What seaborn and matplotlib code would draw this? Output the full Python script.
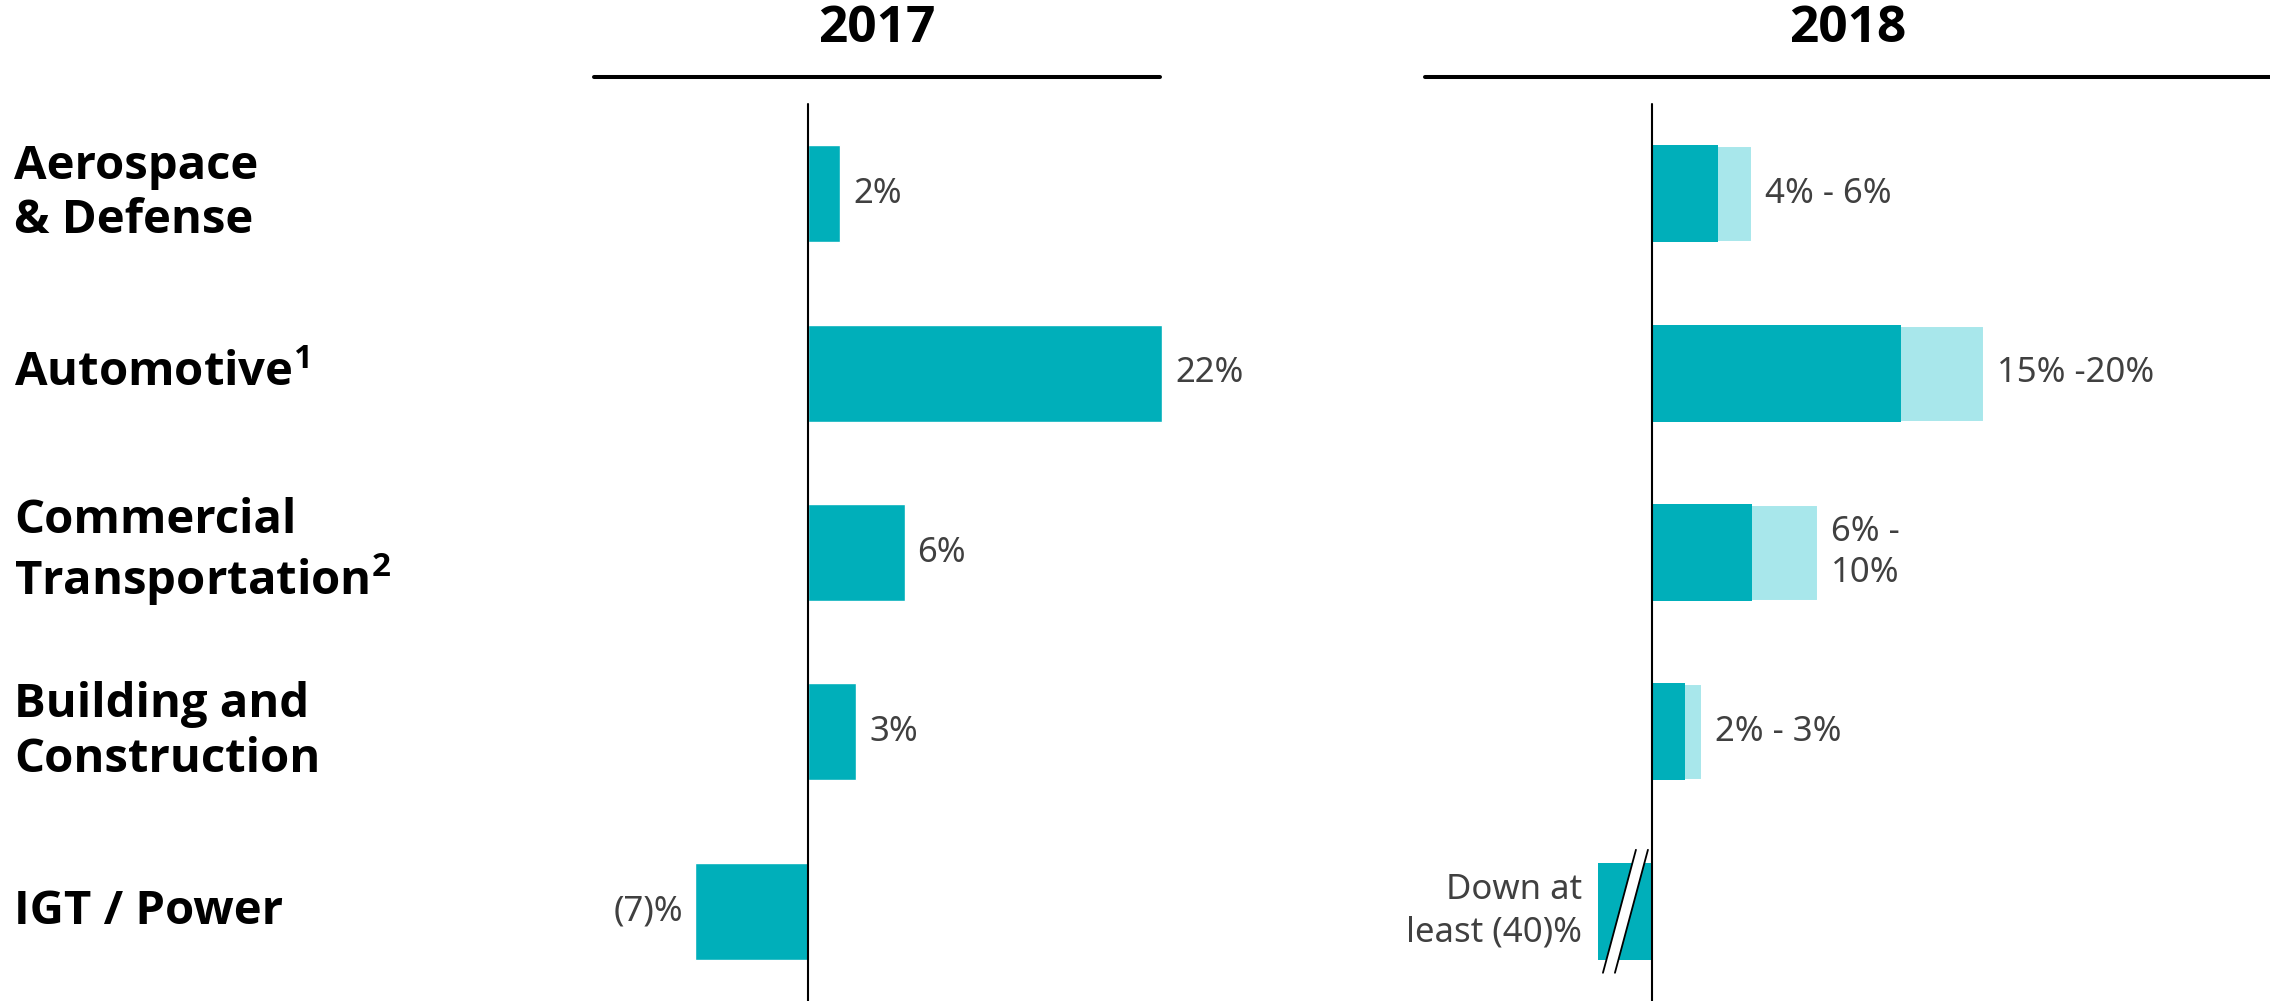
import numpy as np
import matplotlib
matplotlib.use("Agg")
import matplotlib.pyplot as plt
from matplotlib import transforms, font_manager
from matplotlib.lines import Line2D
from matplotlib.patches import Polygon
import seaborn as sns

# ---- data ----
categories = ["Aerospace\n& Defense", "Automotive$^{\\mathbf{1}}$",
              "Commercial\nTransportation$^{\\mathbf{2}}$",
              "Building and\nConstruction", "IGT / Power"]
growth_2017 = [2, 22, 6, 3, -7]
labels_2017 = ["2%", "22%", "6%", "3%", "(7)%"]
low_2018 = [4, 15, 6, 2, -40]
high_2018 = [6, 20, 10, 3, -40]
labels_2018 = ["4% - 6%", "15% -20%", "6% -\n10%", "2% - 3%", "Down at\nleast (40)%"]
years = ["2017", "2018"]

DARK = "#00AFBA"
LIGHT = "#A8E7EB"
TEXT = "#404040"

sns.set_style("white")
plt.rcParams["font.family"] = ["Noto Sans", "DejaVu Sans"]


def bold_family():
    # first humanist sans with a real bold face on this system
    for fam in ["Noto Sans", "Open Sans", "Lato", "Roboto", "DejaVu Sans"]:
        try:
            path = font_manager.findfont(
                font_manager.FontProperties(family=fam, weight="bold"),
                fallback_to_default=False)
        except Exception:
            continue
        if "bold" in path.lower():
            return [fam, "DejaVu Sans"]
    return ["DejaVu Sans"]


BOLD = bold_family()
plt.rcParams["mathtext.fontset"] = "custom"
plt.rcParams["mathtext.rm"] = BOLD[0]
plt.rcParams["mathtext.bf"] = BOLD[0] + ":bold"

W, H = 2270, 1001
fig = plt.figure(figsize=(W / 100, H / 100), dpi=100)


def px_axes(left, right, top, bottom):
    return fig.add_axes([left / W, 1 - bottom / H, (right - left) / W, (bottom - top) / H])


ax17 = px_axes(594, 1160, 104, 1001)
ax18 = px_axes(1425, 2270, 104, 1001)

# 2017 bars
sns.barplot(x=growth_2017, y=categories, orient="h", color=DARK, saturation=1,
            width=0.54, ax=ax17, order=categories)

# 2018 ranges: light bar to the top of the range, dark bar to the bottom
sns.barplot(x=high_2018, y=categories, orient="h", color=LIGHT, saturation=1,
            width=0.54, ax=ax18, order=categories, edgecolor="white", linewidth=2.2)
sns.barplot(x=low_2018, y=categories, orient="h", color=DARK, saturation=1,
            width=0.54, ax=ax18, order=categories, linewidth=0)

# broken axis for 2018: values below the knee are compressed
KNEE, K = -1.6, 0.0434


def fwd(x):
    x = np.asarray(x, dtype=float)
    return np.where(x >= KNEE, x, KNEE + (x - KNEE) * K)


def inv(y):
    y = np.asarray(y, dtype=float)
    return np.where(y >= KNEE, y, KNEE + (y - KNEE) / K)


S18 = 16.6
ax17.set_xlim((594 - 808) / 16.1, (1160 - 808) / 16.1)
ax18.set_xscale("function", functions=(fwd, inv))
ax18.set_xlim(float(inv((1425 - 1652) / S18)), (2270 - 1652) / S18)

for ax in (ax17, ax18):
    ax.set_ylim(4.5, -0.5)
    ax.set_xticks([])
    ax.set_yticks([])
    ax.set_xlabel("")
    ax.set_ylabel("")
    for s in ax.spines.values():
        s.set_visible(False)
    for p in ax.patches:
        p.set_clip_on(False)
    ax.axvline(0, color="black", lw=1.5, zorder=5, clip_on=False)
    ax.patch.set_alpha(0)

# value labels
for i, (v, lab) in enumerate(zip(growth_2017, labels_2017)):
    off = 13 if v >= 0 else -12
    ax17.annotate(lab, xy=(v, i), xytext=(off, 0), textcoords="offset pixels",
                  ha="left" if v >= 0 else "right", va="center", fontsize=25,
                  color=TEXT, annotation_clip=False)

for i, (lo, hi, lab) in enumerate(zip(low_2018, high_2018, labels_2018)):
    end = max(lo, hi) if hi >= 0 else min(lo, hi)
    off = 13 if end >= 0 else -16
    ax18.annotate(lab, xy=(end, i), xytext=(off, 0), textcoords="offset pixels",
                  ha="left" if end >= 0 else "right", va="center", fontsize=25,
                  color=TEXT, annotation_clip=False, linespacing=1.3,
                  multialignment="left" if end >= 0 else "right")

# break marks on the compressed IGT bar
brk = fig.dpi_scale_trans + transforms.ScaledTranslation(KNEE, 4, ax18.transData)
pts = np.array([[-22.5, -61.5], [10.5, 61.5], [22.5, 61.5], [-10.5, -61.5]]) / 100
ax18.add_patch(Polygon(pts, closed=True, facecolor="white", edgecolor="none",
                       transform=brk, zorder=6, clip_on=False))
for a, b in ((pts[0], pts[1]), (pts[3], pts[2])):
    ax18.add_line(Line2D([a[0], b[0]], [a[1], b[1]], color="black", lw=1.3,
                         transform=brk, zorder=7, clip_on=False))

# category labels
lab_tr = transforms.blended_transform_factory(fig.transFigure, ax17.transData)
for i, c in enumerate(categories):
    fig.text(14 / W, i, c, transform=lab_tr, ha="left", va="center",
             fontsize=34, fontweight="bold", family=BOLD, color="black",
             linespacing=1.2)

# year headers with underlines
for yr, (l, r) in zip(years, [(594, 1160), (1425, 2270)]):
    fig.text((l + r) / 2 / W, 1 - 29 / H, yr, ha="center", va="center",
             fontsize=37, fontweight="bold", family=BOLD, color="black")
    fig.add_artist(Line2D([l / W, r / W], [1 - 77 / H] * 2, color="black", lw=2.9))

fig.savefig("out.png", dpi=100, facecolor="white")
